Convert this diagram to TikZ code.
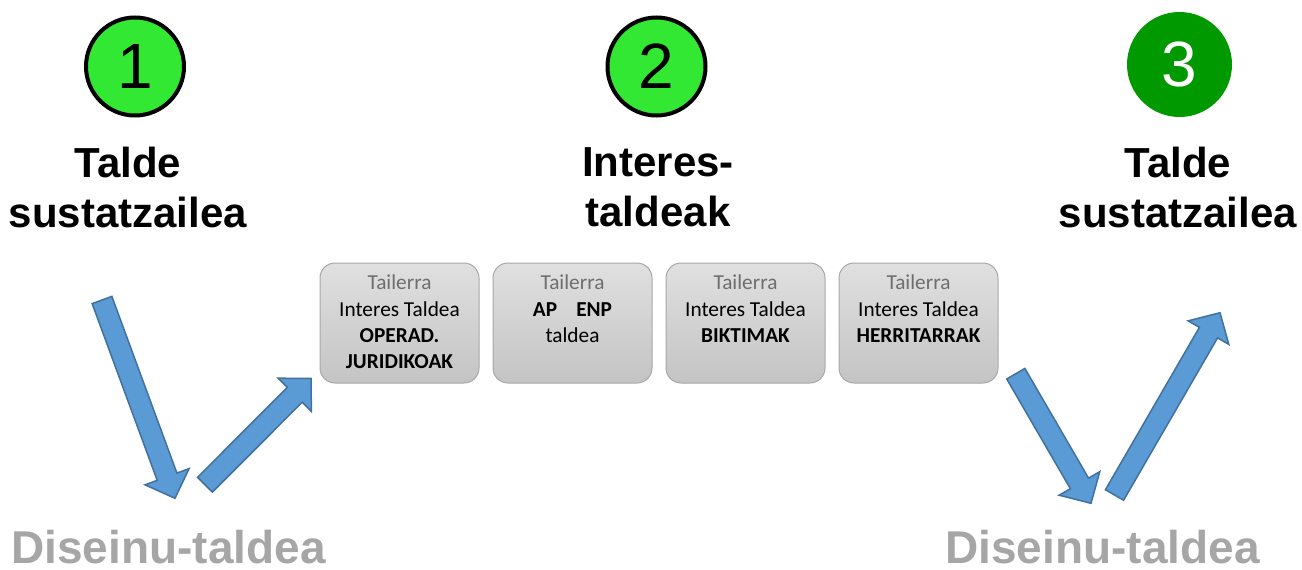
\documentclass[tikz,border=0pt]{standalone}
\usepackage{fontspec}
\newfontfamily\arialf{Liberation Sans}
\newfontfamily\calf{Carlito}
\usetikzlibrary{calc}
\definecolor{arrowfill}{HTML}{5B9BD5}
\definecolor{arrowline}{HTML}{41719C}
\definecolor{lightgreen}{RGB}{51,232,51}
\definecolor{darkgreen}{RGB}{0,153,0}
\definecolor{boxtop}{RGB}{224,224,224}
\definecolor{boxbot}{RGB}{196,196,196}
\definecolor{boxline}{RGB}{168,168,168}
\definecolor{tailgray}{RGB}{110,110,110}
\definecolor{designgray}{RGB}{166,166,166}
\newcommand\blockarrow[2]{%
  \filldraw[blockarrowstyle] let \p1=(#1), \p2=(#2),
    \n1={atan2(\y2-\y1,\x2-\x1)}, \n2={veclen(\x2-\x1,\y2-\y1)} in
    [shift={(\p1)}, rotate=\n1]
    (0pt,-10.5pt) -- ({\n2-23pt},-10.5pt) -- ({\n2-23pt},-23.5pt) -- (\n2,0pt)
    -- ({\n2-23pt},23.5pt) -- ({\n2-23pt},10.5pt) -- (0pt,10.5pt) -- cycle;}
\begin{document}
\begin{tikzpicture}[x=1pt,y=-1pt,
  blockarrowstyle/.style={fill=arrowfill, draw=arrowline, line width=1.5pt, line join=miter},
  stepcircle/.style={circle, draw=black, line width=4pt, fill=lightgreen, minimum size=98pt, inner sep=0pt,
    font=\arialf\fontsize{64}{64}\selectfont},
  stepcircledark/.style={circle, fill=darkgreen, minimum size=105pt, inner sep=0pt, text=white,
    font=\arialf\fontsize{64}{64}\selectfont},
  titletext/.style={anchor=north, inner sep=0pt, align=center, font=\arialf\bfseries\fontsize{42}{50}\selectfont},
  designtext/.style={anchor=base, inner sep=0pt, text=designgray, font=\arialf\bfseries\fontsize{46}{50}\selectfont},
  tbox/.style={rectangle, rounded corners=15pt, draw=boxline, line width=1pt, top color=boxtop, bottom color=boxbot,
    minimum width=159pt, minimum height=120pt, inner sep=0pt},
  tlabel/.style={anchor=north, inner sep=0pt, align=center, font=\calf\fontsize{21.3}{26.3}\selectfont}
]
\useasboundingbox (0,0) rectangle (1302,570);

% numbered circles
\node[stepcircle] (c1) at (135,66.5) {1};
\node[stepcircle] (c2) at (656.5,66.5) {2};
\node[stepcircledark] (c3) at (1179.5,64.5) {3};

% titles
\node[titletext] (t1) at (128,147) {Talde\\sustatzailea};
\node[titletext] (t2) at (658,147) {Interes-\\taldeak};
\node[titletext] (t3) at (1178,147) {Talde\\sustatzailea};

% design group labels
\node[designtext] (d1) at (168.5,563) {Diseinu-taldea};
\node[designtext] (d2) at (1102.5,563) {Diseinu-taldea};

% workshop boxes
\node[tbox] (b1) at (399.5,323) {};
\node[tbox] (b2) at (572.5,323) {};
\node[tbox] (b3) at (745.5,323) {};
\node[tbox] (b4) at (918.5,323) {};
\node[tlabel] (l1) at ($(b1.north)+(0,12.5)$) {{\color{tailgray}Tailerra}\\Interes Taldea\\\textbf{OPERAD.}\\\textbf{JURIDIKOAK}};
\node[tlabel] (l2) at ($(b2.north)+(0,12.5)$) {{\color{tailgray}Tailerra}\\\textbf{AP\hspace{0.9em}ENP}\\taldea};
\node[tlabel] (l3) at ($(b3.north)+(0,12.5)$) {{\color{tailgray}Tailerra}\\Interes Taldea\\\textbf{BIKTIMAK}};
\node[tlabel] (l4) at ($(b4.north)+(0,12.5)$) {{\color{tailgray}Tailerra}\\Interes Taldea\\\textbf{HERRITARRAK}};

% block arrows
\coordinate (a1s) at (102,300);
\coordinate (a1e) at (175,498.3);
\coordinate (a2s) at (205,484.7);
\coordinate (a2e) at (311,378.5);
\coordinate (a3s) at (1015.8,373.7);
\coordinate (a3e) at (1091,503.3);
\coordinate (a4s) at (1114.5,495);
\coordinate (a4e) at (1220,312.7);
\blockarrow{a1s}{a1e}
\blockarrow{a2s}{a2e}
\blockarrow{a3s}{a3e}
\blockarrow{a4s}{a4e}
\end{tikzpicture}
\end{document}
